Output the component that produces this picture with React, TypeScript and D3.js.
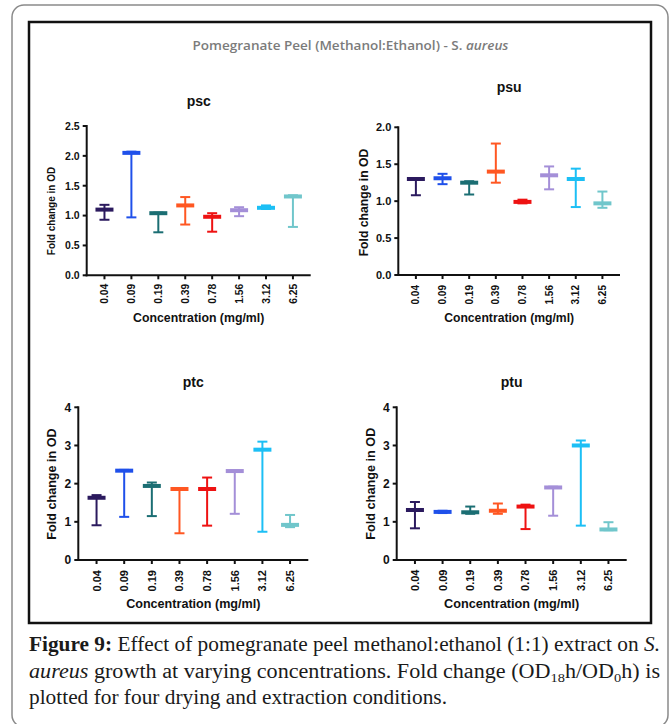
import React from "react";
import * as d3 from "d3";

const categories = ["0.04", "0.09", "0.19", "0.39", "0.78", "1.56", "3.12", "6.25"];
const colors = ["#2b1a5e", "#1f50ea", "#1b6e73", "#ff5722", "#ee1212", "#a48fd8", "#1cbff5", "#70c6cb"];

const pscMean = [1.10, 2.05, 1.04, 1.17, 0.98, 1.09, 1.13, 1.32];
const pscMax = [1.18, 2.07, 1.05, 1.31, 1.04, 1.14, 1.17, 1.34];
const pscMin = [0.93, 0.97, 0.72, 0.85, 0.73, 0.99, 1.11, 0.81];

const psuMean = [1.30, 1.31, 1.25, 1.40, 0.99, 1.35, 1.30, 0.97];
const psuMax = [1.31, 1.37, 1.27, 1.78, 1.02, 1.47, 1.44, 1.13];
const psuMin = [1.08, 1.23, 1.09, 1.25, 0.97, 1.16, 0.92, 0.91];

const ptcMean = [1.63, 2.34, 1.94, 1.86, 1.86, 2.33, 2.89, 0.92];
const ptcMax = [1.70, 2.36, 2.03, 1.88, 2.16, 2.35, 3.10, 1.18];
const ptcMin = [0.91, 1.13, 1.15, 0.70, 0.90, 1.21, 0.74, 0.86];

const ptuMean = [1.31, 1.26, 1.25, 1.29, 1.40, 1.90, 3.00, 0.80];
const ptuMax = [1.52, 1.29, 1.40, 1.48, 1.45, 1.92, 3.13, 0.99];
const ptuMin = [0.83, 1.23, 1.21, 1.21, 0.81, 1.16, 0.90, 0.78];

const ticksHalf25 = [0, 0.5, 1.0, 1.5, 2.0, 2.5];
const ticksHalf20 = [0, 0.5, 1.0, 1.5, 2.0];
const ticksInt4 = [0, 1, 2, 3, 4];

const FONT = "'Liberation Sans', Arial, sans-serif";

type PanelCfg = {
  name: string;
  mean: number[];
  max: number[];
  min: number[];
  yMax: number;
  ticks: number[];
  fmt: (v: number) => string;
  x0: number; x1: number; yTop: number; yBot: number;
  titleY: number;
  yTitleX: number; yTitleY: number; yTitleSize: number;
  xTitleY: number; xTitleSize: number;
  yTickSize: number; xTickSize: number; xLabelGap: number;
};

const panels: PanelCfg[] = [
  { name: "psc", mean: pscMean, max: pscMax, min: pscMin, yMax: 2.5, ticks: ticksHalf25, fmt: d3.format(".1f"),
    x0: 86.7, x1: 310.7, yTop: 126, yBot: 275.3, titleY: 106,
    yTitleX: 51.7, yTitleY: 211, yTitleSize: 10, xTitleY: 321.7, xTitleSize: 12.3,
    yTickSize: 10.5, xTickSize: 10.3, xLabelGap: 8.5 },
  { name: "psu", mean: psuMean, max: psuMax, min: psuMin, yMax: 2.0, ticks: ticksHalf20, fmt: d3.format(".1f"),
    x0: 398.3, x1: 620, yTop: 127.3, yBot: 275, titleY: 91.7,
    yTitleX: 363.3, yTitleY: 202.5, yTitleSize: 12.2, xTitleY: 321.7, xTitleSize: 12.2,
    yTickSize: 11, xTickSize: 10, xLabelGap: 10 },
  { name: "ptc", mean: ptcMean, max: ptcMax, min: ptcMin, yMax: 4, ticks: ticksInt4, fmt: d3.format("d"),
    x0: 78.3, x1: 308.3, yTop: 407.3, yBot: 560, titleY: 386.7,
    yTitleX: 51.7, yTitleY: 484, yTitleSize: 12.6, xTitleY: 608.3, xTitleSize: 12.6,
    yTickSize: 12, xTickSize: 11, xLabelGap: 10 },
  { name: "ptu", mean: ptuMean, max: ptuMax, min: ptuMin, yMax: 4, ticks: ticksInt4, fmt: d3.format("d"),
    x0: 396.7, x1: 626.7, yTop: 407.3, yBot: 560, titleY: 386.7,
    yTitleX: 370, yTitleY: 483.7, yTitleSize: 12.7, xTitleY: 608, xTitleSize: 12.7,
    yTickSize: 12, xTickSize: 11, xLabelGap: 9.5 },
];

function Panel({ p }: { p: PanelCfg }) {
  const x = d3.scalePoint<string>().domain(categories).range([p.x0, p.x1]).padding(0.66);
  const y = d3.scaleLinear().domain([0, p.yMax]).range([p.yBot, p.yTop]);
  const cx = (p.x0 + p.x1) / 2;
  return (
    <g>
      <text x={cx} y={p.titleY} textAnchor="middle" fontFamily={FONT} fontWeight="bold" fontSize={14} fill="#111">{p.name}</text>
      {categories.map((c, i) => {
        const xc = x(c)!;
        const col = colors[i];
        return (
          <g key={c}>
            <line x1={xc} x2={xc} y1={y(p.min[i])} y2={y(p.max[i])} stroke={col} strokeWidth={2} />
            <line x1={xc - 5} x2={xc + 5} y1={y(p.min[i])} y2={y(p.min[i])} stroke={col} strokeWidth={2} />
            <line x1={xc - 5} x2={xc + 5} y1={y(p.max[i])} y2={y(p.max[i])} stroke={col} strokeWidth={2} />
            <rect x={xc - 9} y={y(p.mean[i]) - 2} width={18} height={4} fill={col} />
          </g>
        );
      })}
      <line x1={p.x0} x2={p.x0} y1={p.yTop - 1} y2={p.yBot + 1} stroke="#111" strokeWidth={2} />
      {p.ticks.map((t) => (
        <g key={t}>
          <line x1={p.x0 - 4} x2={p.x0} y1={y(t)} y2={y(t)} stroke="#111" strokeWidth={2} />
          <text x={p.x0 - 7} y={y(t)} dy="0.36em" textAnchor="end" fontFamily={FONT} fontWeight="bold" fontSize={p.yTickSize} fill="#111">{p.fmt(t)}</text>
        </g>
      ))}
      <line x1={p.x0 - 1} x2={p.x1} y1={p.yBot} y2={p.yBot} stroke="#111" strokeWidth={2} />
      {categories.map((c) => (
        <g key={c}>
          <line x1={x(c)!} x2={x(c)!} y1={p.yBot} y2={p.yBot + 4} stroke="#111" strokeWidth={2} />
          <text transform={`translate(${x(c)!},${p.yBot + p.xLabelGap}) rotate(-90)`} dy="0.36em" textAnchor="end"
            fontFamily={FONT} fontWeight="bold" fontSize={p.xTickSize} fill="#111">{c}</text>
        </g>
      ))}
      <text x={cx} y={p.xTitleY} textAnchor="middle" fontFamily={FONT} fontWeight="bold" fontSize={p.xTitleSize} fill="#111">Concentration (mg/ml)</text>
      <text transform={`translate(${p.yTitleX},${p.yTitleY}) rotate(-90)`} dy="0.36em" textAnchor="middle"
        fontFamily={FONT} fontWeight="bold" fontSize={p.yTitleSize} fill="#111">Fold change in OD</text>
    </g>
  );
}

export default function App() {
  const serif = "'Liberation Serif', 'Times New Roman', serif";
  return (
    <svg width={670} height={724} style={{ position: "absolute", left: 0, top: 0, background: "#fff" }}>
      <rect x={12} y={5} width={656} height={722} rx={12} fill="#fff" stroke="#8a8a8a" strokeWidth={1.5} />
      <rect x={29} y={22} width={622} height={601} fill="#fff" stroke="#111" strokeWidth={2.5} />
      <text x={350.5} y={50} textAnchor="middle" fontFamily="'Open Sans', sans-serif" fontWeight={600} fontSize={12.5} fill="#7b7b7b"
        textLength={316} lengthAdjust="spacingAndGlyphs">
        Pomegranate Peel (Methanol:Ethanol) - S. <tspan fontStyle="italic">aureus</tspan>
      </text>
      {panels.map((p) => <Panel key={p.name} p={p} />)}
      <text x={29} y={651} fontFamily={serif} fontSize={20} fill="#1a1a1a" textLength={631} lengthAdjust="spacingAndGlyphs">
        <tspan fontWeight="bold">Figure 9:</tspan> Effect of pomegranate peel methanol:ethanol (1:1) extract on <tspan fontStyle="italic">S.</tspan>
      </text>
      <text x={29} y={677.5} fontFamily={serif} fontSize={20} fill="#1a1a1a" textLength={631} lengthAdjust="spacingAndGlyphs">
        <tspan fontStyle="italic">aureus</tspan> growth at varying concentrations. Fold change (OD<tspan fontSize={13} dy={4}>18</tspan><tspan dy={-4}>h/OD</tspan><tspan fontSize={13} dy={4}>0</tspan><tspan dy={-4}>h) is</tspan>
      </text>
      <text x={29} y={704} fontFamily={serif} fontSize={20} fill="#1a1a1a" textLength={418} lengthAdjust="spacingAndGlyphs">
        plotted for four drying and extraction conditions.
      </text>
    </svg>
  );
}
